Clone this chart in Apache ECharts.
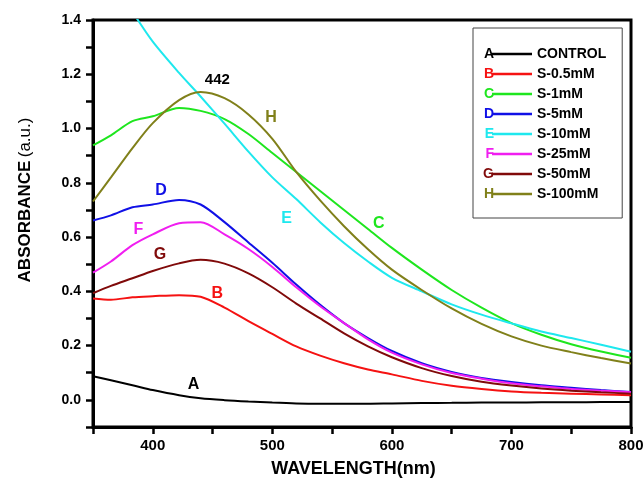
<!DOCTYPE html>
<html>
<head>
<meta charset="utf-8">
<script src="https://cdn.jsdelivr.net/npm/echarts@6/dist/echarts.min.js"></script>
<style>
  html, body { margin: 0; padding: 0; background: #fff; }
  #chart { width: 644px; height: 480px; }
</style>
</head>
<body>
<div id="chart"></div>
<script>
// wavelength (nm) for every series
var wavelength = [350, 365, 383, 400, 422, 440, 460, 480, 500, 520, 540, 560, 580, 600, 625, 650, 675, 700, 725, 750, 775, 800];

// absorbance
var absA = [0.087, 0.072, 0.054, 0.036, 0.017, 0.006, -0.001, -0.006, -0.010, -0.013, -0.014, -0.014, -0.014, -0.013, -0.012, -0.011, -0.010, -0.010, -0.009, -0.009, -0.008, -0.008];
var absB = [0.374, 0.369, 0.378, 0.382, 0.386, 0.380, 0.340, 0.290, 0.243, 0.197, 0.163, 0.135, 0.112, 0.094, 0.070, 0.052, 0.040, 0.031, 0.026, 0.023, 0.020, 0.017];
var absC = [0.938, 0.975, 1.027, 1.045, 1.076, 1.065, 1.035, 0.980, 0.910, 0.840, 0.770, 0.700, 0.630, 0.560, 0.480, 0.405, 0.340, 0.283, 0.240, 0.205, 0.178, 0.155];
var absD = [0.661, 0.680, 0.710, 0.720, 0.737, 0.720, 0.655, 0.580, 0.505, 0.425, 0.350, 0.283, 0.228, 0.180, 0.135, 0.103, 0.081, 0.066, 0.054, 0.045, 0.036, 0.029];
var absE = [1.660, 1.550, 1.430, 1.320, 1.205, 1.118, 1.018, 0.915, 0.820, 0.740, 0.655, 0.578, 0.510, 0.450, 0.400, 0.352, 0.314, 0.282, 0.252, 0.228, 0.203, 0.177];
var absF = [0.469, 0.510, 0.570, 0.610, 0.651, 0.655, 0.610, 0.556, 0.490, 0.415, 0.345, 0.283, 0.223, 0.174, 0.131, 0.099, 0.078, 0.061, 0.050, 0.040, 0.034, 0.028];
var absG = [0.393, 0.420, 0.448, 0.475, 0.503, 0.516, 0.502, 0.466, 0.415, 0.355, 0.300, 0.245, 0.197, 0.157, 0.117, 0.088, 0.067, 0.053, 0.042, 0.034, 0.028, 0.023];
var absH = [0.731, 0.820, 0.928, 1.020, 1.105, 1.135, 1.112, 1.052, 0.962, 0.840, 0.735, 0.640, 0.555, 0.480, 0.405, 0.337, 0.280, 0.234, 0.200, 0.176, 0.154, 0.134];

var seriesNames = ['CONTROL', 'S-0.5mM', 'S-1mM', 'S-5mM', 'S-10mM', 'S-25mM', 'S-50mM', 'S-100mM'];
var letters = ['A', 'B', 'C', 'D', 'E', 'F', 'G', 'H'];
var colors = ['#000000', '#f51212', '#1ee61e', '#1010e6', '#1ee8ee', '#f01ef0', '#800a0a', '#80801a'];
var allValues = [absA, absB, absC, absD, absE, absF, absG, absH];

// where each letter sits on the plot [wavelength, absorbance]
var letterPos = [[434, 0.058], [454, 0.393], [589, 0.649], [407, 0.772], [512, 0.667], [388, 0.627], [406, 0.534], [499, 1.039]];
var peakText = '442';
var peakPos = [454, 1.181];

var font = "'Liberation Sans', Arial, sans-serif";

var chart = echarts.init(document.getElementById('chart'));

var series = [];
for (var i = 0; i < allValues.length; i++) {
    var pts = [];
    for (var j = 0; j < wavelength.length; j++) {
        pts.push([wavelength[j], allValues[i][j]]);
    }
    var marks = [{ coord: letterPos[i], value: letters[i] }];
    if (i === 7) {
        marks.push({ coord: peakPos, value: peakText, label: { color: '#000', fontSize: 15 } });
    }
    series.push({
        name: seriesNames[i],
        type: 'line',
        data: pts,
        smooth: 0.3,
        showSymbol: false,
        symbol: 'none',
        lineStyle: { color: colors[i], width: 2 },
        itemStyle: { color: colors[i] },
        markPoint: {
            symbol: 'rect',
            symbolSize: 1,
            itemStyle: { color: 'rgba(0,0,0,0)' },
            label: {
                show: true,
                position: 'inside',
                formatter: '{c}',
                color: colors[i],
                fontFamily: font,
                fontWeight: 'bold',
                fontSize: 16
            },
            data: marks
        }
    });
}

// legend letters in front of each legend line
var graphics = [];
for (var k = 0; k < letters.length; k++) {
    graphics.push({
        type: 'text',
        x: 494,
        y: 54 + k * 20,
        style: {
            text: letters[k],
            fill: colors[k],
            font: 'bold 14px ' + font,
            align: 'right',
            verticalAlign: 'middle'
        }
    });
}
graphics.push({
    type: 'text',
    x: 25,
    y: 200,
    rotation: Math.PI / 2,
    style: {
        text: '{b|ABSORBANCE} {n|(a.u.)}',
        align: 'center',
        verticalAlign: 'middle',
        rich: {
            b: { font: 'bold 17px ' + font, fill: '#000' },
            n: { font: '17px ' + font, fill: '#000' }
        }
    }
});

chart.setOption({
    animation: false,
    backgroundColor: '#fff',
    grid: {
        left: 93, right: 13, top: 20, bottom: 53,
        show: true,
        borderColor: '#000',
        borderWidth: 3,
        outerBoundsMode: 'none'
    },
    legend: {
        orient: 'vertical',
        left: 473,
        top: 28,
        padding: [19, 16, 17, 19],
        borderColor: '#444',
        borderWidth: 1,
        icon: 'rect',
        itemWidth: 40,
        itemHeight: 2.5,
        itemGap: 6,
        selectedMode: false,
        textStyle: { color: '#000', fontFamily: font, fontWeight: 'bold', fontSize: 14, lineHeight: 14 },
        data: seriesNames
    },
    xAxis: {
        type: 'value',
        min: 350,
        max: 800,
        interval: 50,
        name: 'WAVELENGTH(nm)',
        nameLocation: 'middle',
        nameGap: 33,
        nameTextStyle: { color: '#000', fontFamily: font, fontWeight: 'bold', fontSize: 18, padding: [0, 17, 0, 0] },
        axisLine: { onZero: false, lineStyle: { color: '#000', width: 3 } },
        axisTick: { length: 7, lineStyle: { color: '#000', width: 2.5 } },
        axisLabel: {
            color: '#000', fontFamily: font, fontWeight: 'bold', fontSize: 15, margin: 11,
            formatter: function (v) { return v % 100 === 0 ? String(v) : ''; }
        },
        splitLine: { show: false }
    },
    yAxis: {
        type: 'value',
        min: -0.1,
        max: 1.4,
        interval: 0.1,
        axisLine: { onZero: false, lineStyle: { color: '#000', width: 3 } },
        axisTick: { length: 7, lineStyle: { color: '#000', width: 2.5 } },
        axisLabel: {
            color: '#000', fontFamily: font, fontWeight: 'bold', fontSize: 14, margin: 12,
            formatter: function (v) {
                var n = Math.round(v * 10);
                return (n >= 0 && n % 2 === 0) ? (n / 10).toFixed(1) : '';
            }
        },
        splitLine: { show: false }
    },
    graphic: graphics,
    series: series
});
</script>
</body>
</html>
